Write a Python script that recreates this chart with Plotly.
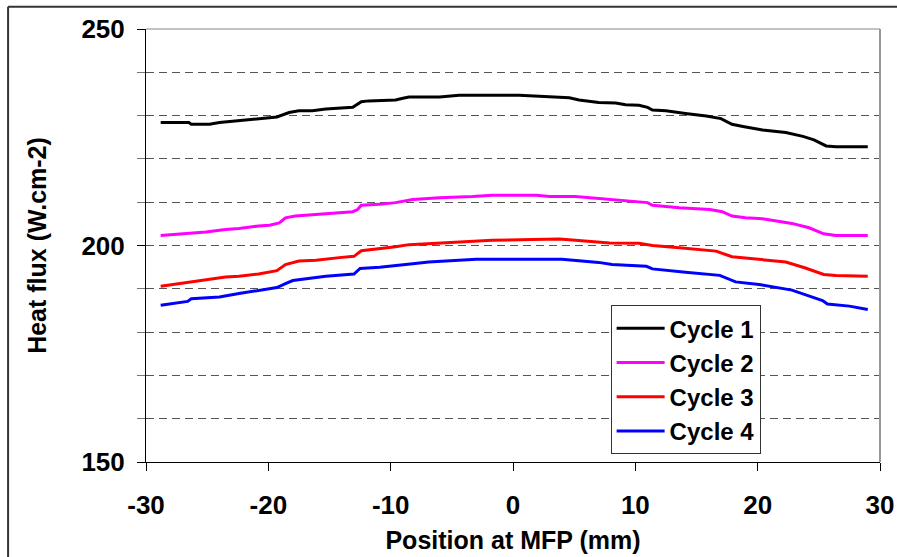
import plotly.graph_objects as go

# ---- data ----
c1_x = [-28.8, -26.5, -26.3, -24.8, -24.0, -22.4, -20.8, -19.3, -18.3, -17.5, -16.4, -15.3, -13.1, -12.4, -11.8,
        -9.6, -9.0, -8.5, -6.0, -4.4, 0.5, 3.0, 3.5, 4.6, 5.4, 7.0, 8.4, 9.2, 10.3, 11.0,
        11.4, 12.5, 14.1, 15.8, 17.0, 17.4, 17.9, 18.8, 20.4, 22.3, 23.7, 24.6, 25.6, 26.4, 29.0]
c1_y = [228.4, 228.4, 228.0, 228.0, 228.4, 228.8, 229.3, 229.7, 230.7, 231.1, 231.1, 231.5, 231.9, 233.2, 233.4,
        233.6, 234.0, 234.3, 234.3, 234.7, 234.7, 234.4, 234.2, 234.1, 233.6, 233.0, 232.9, 232.5, 232.4, 231.9,
        231.3, 231.1, 230.5, 229.9, 229.3, 228.8, 228.0, 227.5, 226.7, 226.1, 225.2, 224.4, 223.0, 222.8, 222.8]

c2_x = [-28.8, -26.5, -25.1, -23.5, -22.4, -20.8, -19.9, -19.1, -18.6, -17.8, -16.9, -15.3, -13.1, -12.7, -12.4,
        -10.9, -9.6, -8.2, -6.0, -3.3, -1.7, 1.9, 3.0, 5.1, 6.8, 7.9, 10.3, 11.0, 11.4, 13.6,
        16.1, 17.1, 17.9, 19.0, 20.4, 22.8, 24.2, 25.4, 26.4, 29.0]
c2_y = [202.3, 202.8, 203.1, 203.7, 203.9, 204.5, 204.7, 205.2, 206.4, 206.8, 207.0, 207.4, 207.8, 208.3, 209.3,
        209.5, 209.9, 210.6, 211.0, 211.3, 211.6, 211.6, 211.3, 211.3, 210.9, 210.5, 210.1, 209.9, 209.3, 208.7,
        208.3, 207.8, 206.8, 206.4, 206.2, 205.1, 204.1, 202.7, 202.3, 202.3]

c3_x = [-28.8, -26.5, -24.8, -23.5, -22.4, -20.8, -19.3, -18.6, -17.5, -16.1, -14.2, -13.0, -12.4, -10.9, -9.6,
        -8.5, -6.0, -3.3, -1.7, 1.6, 3.8, 5.1, 7.9, 10.3, 11.4, 13.6, 16.6, 17.9, 19.6, 21.2,
        22.3, 23.9, 25.4, 26.4, 29.0]
c3_y = [190.6, 191.5, 192.1, 192.7, 192.9, 193.4, 194.2, 195.6, 196.4, 196.6, 197.2, 197.5, 198.8, 199.2, 199.7,
        200.2, 200.6, 201.0, 201.2, 201.4, 201.5, 201.2, 200.6, 200.5, 200.0, 199.5, 198.7, 197.4, 196.9, 196.4,
        196.2, 194.8, 193.3, 193.1, 192.9]

c4_x = [-28.8, -26.6, -26.3, -24.0, -22.4, -20.8, -19.3, -18.6, -18.0, -15.3, -13.0, -12.5, -10.9, -8.2, -6.9,
        -3.0, 4.0, 7.0, 8.1, 10.9, 11.4, 14.1, 16.9, 18.2, 20.1, 22.8, 24.2, 25.3, 25.7, 27.5, 29.0]
c4_y = [186.2, 187.1, 187.7, 188.1, 188.9, 189.7, 190.3, 191.2, 191.9, 192.9, 193.4, 194.7, 195.0, 195.8, 196.2,
        196.8, 196.8, 196.1, 195.6, 195.2, 194.6, 193.8, 193.1, 191.6, 191.0, 189.7, 188.3, 187.3, 186.5, 186.0, 185.2]

series_names = ["Cycle 1", "Cycle 2", "Cycle 3", "Cycle 4"]
series_colors = ["#000000", "#FF00FF", "#FF0000", "#0000FF"]
series_x = [c1_x, c2_x, c3_x, c4_x]
series_y = [c1_y, c2_y, c3_y, c4_y]

x_ticks = [-30, -20, -10, 0, 10, 20, 30]
y_ticks = [150, 200, 250]

FONT = "Arial, 'Liberation Sans', sans-serif"

fig = go.Figure()
for i, (name, col, xs, ys) in enumerate(zip(series_names, series_colors, series_x, series_y)):
    fig.add_trace(go.Scatter(x=xs, y=ys, mode="lines", name=name, legendgroup=f"g{i}",
                             line=dict(color=col, width=3)))

fig.update_layout(
    width=897, height=557,
    margin=dict(l=146, r=16.5, t=29.3, b=94.7, autoexpand=False),
    paper_bgcolor="white", plot_bgcolor="white",
    font=dict(family=FONT, color="black"),
    showlegend=True,
    legend=dict(x=0.633, y=0.362, xanchor="left", yanchor="top",
                bgcolor="white", bordercolor="#333333", borderwidth=1,
                font=dict(size=24, family=FONT, color="black", weight="bold"),
                tracegroupgap=0, itemwidth=48),
    xaxis=dict(range=[-30, 30], tickvals=x_ticks, ticktext=[str(v) for v in x_ticks],
               showgrid=False, zeroline=False, showline=True, linecolor="black", linewidth=1,
               ticks="outside", ticklen=8, tickcolor="black",
               tickfont=dict(size=26, family=FONT, weight="bold"),
               ticklabelstandoff=12,
               title=dict(text="Position at MFP (mm)", font=dict(size=25, family=FONT, weight="bold"),
                          standoff=12)),
    yaxis=dict(range=[150, 250], tickvals=y_ticks, ticktext=[str(v) for v in y_ticks],
               showgrid=True, gridcolor="#555555", griddash="8px,5px", gridwidth=1,
               zeroline=False, showline=True, linecolor="black", linewidth=1,
               ticks="outside", ticklen=8, tickcolor="black",
               tickfont=dict(size=26, family=FONT, weight="bold"),
               ticklabelstandoff=7,
               minor=dict(dtick=10, showgrid=True, gridcolor="#555555", griddash="8px,5px", gridwidth=1,
                          ticks="outside", ticklen=8, tickcolor="#777777"),
               title=dict(text="Heat flux (W.cm-2)", font=dict(size=25, family=FONT, weight="bold"),
                          standoff=27)),
)

# top and right border of the plot area (grey), outer chart frame (left and top)
fig.add_shape(type="line", xref="paper", yref="paper", x0=0, x1=1, y0=1, y1=1,
              line=dict(color="#888888", width=1), layer="above")
fig.add_shape(type="line", xref="paper", yref="paper", x0=1, x1=1, y0=0, y1=1,
              line=dict(color="#999999", width=2), layer="above")
fig.add_shape(type="line", xref="paper", yref="paper", x0=-0.1879, x1=-0.1879, y0=-0.3, y1=1.0515,
              line=dict(color="#333333", width=2), layer="above")
fig.add_shape(type="line", xref="paper", yref="paper", x0=-0.1879, x1=1.1, y0=1.0515, y1=1.0515,
              line=dict(color="#333333", width=2), layer="above")

fig.write_html("out.html", config={"displayModeBar": False},
               post_script="document.body.style.margin='0px';")
